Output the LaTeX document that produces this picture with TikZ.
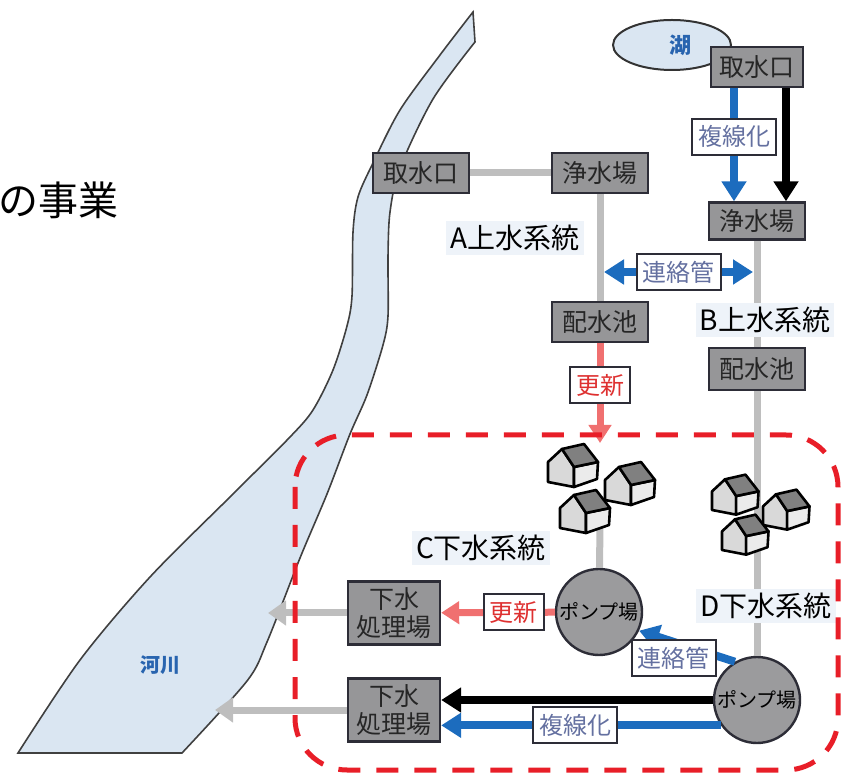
\documentclass[tikz,border=0pt]{standalone}
\usepackage[svgnames]{xcolor}
\usepackage{fontspec}
\setmainfont{Noto Sans CJK JP}
\usepackage{tikz}
\usetikzlibrary{arrows.meta,shapes.geometric}

\definecolor{boxgray}{RGB}{150,150,152}
\definecolor{edgegray}{RGB}{45,45,55}
\definecolor{pipegray}{RGB}{190,190,190}
\definecolor{flowblue}{RGB}{28,108,190}
\definecolor{flowred}{RGB}{240,112,112}
\definecolor{zonered}{RGB}{232,30,40}
\definecolor{waterblue}{RGB}{218,230,242}
\definecolor{nameblue}{RGB}{40,100,175}
\definecolor{tagblue}{RGB}{100,112,160}
\definecolor{tagred}{RGB}{222,48,48}
\definecolor{sysbg}{RGB}{238,243,249}

\tikzset{
  pics/house/.style={code={
    \filldraw[fill=black!15, draw=black, line width=1.3pt, line join=round]
      (0,0) -- (0,-20) -- (14,-33) -- (26,-15) -- (26,5) -- cycle;
    \filldraw[fill=black!8, draw=black, line width=1.3pt, line join=round]
      (26,5) -- (26,-15) -- (50,-20) -- (49,-3) -- cycle;
    \filldraw[fill=black!50, draw=black, line width=1.3pt, line join=round]
      (14,-33) -- (36,-38) -- (50,-20) -- (26,-15) -- cycle;
  }}
}

\begin{document}
\begin{tikzpicture}[x=0.5pt, y=-0.5pt,
    every node/.append style={font=\fontsize{12.5pt}{14pt}\selectfont},
    plant/.style={draw=edgegray, fill=boxgray, line width=1.2pt, minimum width=48pt,
      minimum height=20pt, inner sep=1pt, text=black!85},
    pump/.style={circle, draw=edgegray, fill=boxgray!95, line width=1.2pt, minimum size=43pt,
      inner sep=0pt, font=\fontsize{10pt}{12pt}\selectfont},
    tag/.style={draw=edgegray, fill=white, line width=1pt, minimum height=18pt,
      inner xsep=3pt, inner ysep=1pt, font=\fontsize{12pt}{14pt}\selectfont},
    system/.style={fill=sysbg, inner sep=2pt, font=\fontsize{14pt}{16pt}\selectfont},
    pipe/.style={draw=pipegray, line width=3.5pt},
    blueflow/.style={draw=flowblue, line width=4pt, -{Triangle[length=10pt,width=12pt]}},
    blackflow/.style={draw=black, line width=4pt, -{Triangle[length=10pt,width=12pt]}},
    redflow/.style={draw=flowred, line width=3.5pt, -{Triangle[length=9pt,width=11pt]}},
    zone/.style={draw=zonered, line width=2.5pt, rounded corners=26pt, dash pattern=on 11pt off 8pt}]
  \useasboundingbox (0,0) rectangle (846,774);

  % river and lake
  \filldraw[fill=waterblue, draw=black!75, line width=0.8pt]
    plot[smooth, tension=0.5] coordinates {(473,12) (440,55) (400,110) (373,163) (358,197)
      (353,232) (352,296) (347,326) (333,370) (313,410) (290,437) (233,494) (150,577) (80,660) (18,753)}
    -- plot[smooth, tension=0.5] coordinates {(182,753) (247,681) (267,642) (300,558) (327,494)
      (350,434) (367,395) (383,345) (388,316) (388,257) (390,212) (400,168) (433,99) (475,42)}
    -- cycle;
  \node (river) at (160,665) [text=nameblue, font=\bfseries\fontsize{10pt}{12pt}\selectfont] {河川};
  \node (lake) at (672,45) [ellipse, draw=black!80, fill=waterblue, line width=1pt,
    minimum width=59pt, minimum height=25pt, inner sep=0pt,
    text=nameblue, font=\bfseries\fontsize{11pt}{12pt}\selectfont] {\hspace*{8pt}湖};

  % plants
  \node (intakeB) [plant, minimum width=46pt] at (757,67) {取水口};
  \node (plantB) [plant, minimum height=18.5pt] at (757,221) {浄水場};
  \node (intakeA) [plant] at (421,173) {取水口};
  \node (plantA) [plant] at (600,173) {浄水場};
  \node (poolA) [plant] at (600,322) {配水池};
  \node (poolB) [plant, minimum height=21pt] at (757,369) {配水池};
  \node (sewageC) [plant, minimum width=46pt, minimum height=31.5pt, align=center] at (394,613) {下水\\処理場};
  \node (sewageD) [plant, minimum width=46pt, minimum height=31.5pt, align=center] at (394,710) {下水\\処理場};
  \node (pumpC) [pump] at (599,612) {ポンプ場};
  \node (pumpD) [pump] at (757,700) {ポンプ場};

  \coordinate (linkL) at (604,272);
  \coordinate (linkR) at (753,272);
  \coordinate (dropC) at (600,443);
  \coordinate (housesC) at (600,525);
  \coordinate (riverC) at (268,613);
  \coordinate (riverD) at (215,710);

  % existing pipes
  \draw[pipe] (intakeA) -- (plantA);
  \draw[pipe] (plantA) -- (poolA);
  \draw[pipe] (plantB) -- (poolB);
  \draw[pipe] (poolB) -- (pumpD);
  \draw[pipe] (housesC) -- (pumpC);
  \draw[pipe, -{Triangle[length=9pt,width=12pt]}] (sewageC) -- (riverC);
  \draw[pipe, -{Triangle[length=9pt,width=12pt]}] (sewageD) -- (riverD);

  % houses
  \pic at (548,482) {house};
  \pic at (605,500) {house};
  \pic at (560,528) {house};
  \pic[scale=0.93] at (712,510) {house};
  \pic[scale=0.93] at (763,525) {house};
  \pic[scale=0.93] at (722,550) {house};

  \node (sysA) [system] at (515,238) {A上水系統};
  \node (sysB) [system] at (765,320) {B上水系統};
  \node (sysC) [system] at (481,548) {C下水系統};
  \node (sysD) [system] at (766,606) {D下水系統};

  % new links
  \draw[blueflow] ([xshift=-11.5pt]intakeB.south) -- node[tag, pos=0.43, text=tagblue] {複線化} ([xshift=-11.5pt]plantB.north);
  \draw[blackflow] ([xshift=14.5pt]intakeB.south) -- ([xshift=14.5pt]plantB.north);
  \draw[blueflow, {Triangle[length=10pt,width=12pt]}-{Triangle[length=10pt,width=12pt]}] (linkL) -- node[tag, text=tagblue] {連絡管} (linkR);
  \draw[redflow] (poolA) -- node[tag, pos=0.42, text=tagred] {更新} (dropC);
  \draw[redflow] (pumpC) -- node[tag, pos=0.36, text=tagred] {更新} (sewageC);
  \draw[blueflow] (pumpD.120) -- node[tag, pos=0.64, yshift=-8pt, text=tagblue] {連絡管} (pumpC.-25);
  \draw[blackflow] (pumpD.west) -- (pumpD.west -| sewageD.east);
  \draw[blueflow] (pumpD.215) -- node[tag, pos=0.52, text=tagblue] {複線化} (pumpD.215 -| sewageD.east);

  \draw[zone] (295,435) rectangle (838,770);

  \node (title) [anchor=west, inner sep=0pt, font=\fontsize{20pt}{24pt}\selectfont] at (-2,200) {の事業};
\end{tikzpicture}
\end{document}
